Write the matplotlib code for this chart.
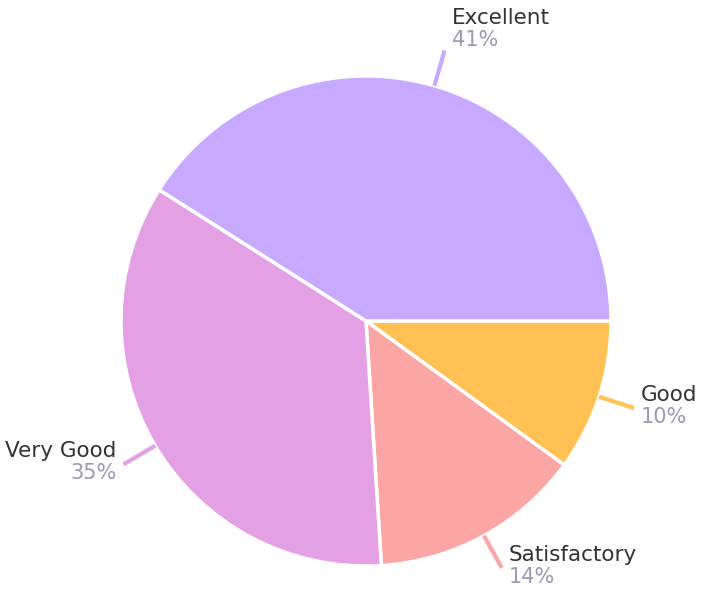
import numpy as np
import matplotlib.pyplot as plt

labels = ['Good', 'Satisfactory', 'Very Good', 'Excellent']
values = [10, 14, 35, 41]
colors = ['#ffc153', '#fca5a5', '#e4a0e4', '#c7a9ff']

W, H = 708, 596
R = 245.0          # pie radius in px
cx, cy = 366, 321  # centre in px (from top)

fig = plt.figure(figsize=(W / 100, H / 100), dpi=100)
ax = fig.add_axes([0, 0, 1, 1])

wedges, _ = ax.pie(values, colors=colors, startangle=0, counterclock=False,
                   radius=1.0, center=(0, 0),
                   wedgeprops=dict(edgecolor='white', linewidth=2.5))

px = 1.0 / R
for w, lab, val, col in zip(wedges, labels, values, colors):
    ang = np.deg2rad((w.theta1 + w.theta2) / 2)
    c, s = np.cos(ang), np.sin(ang)
    x0, y0 = 1.0 * c, 1.0 * s
    x1, y1 = 1.15 * c, 1.15 * s
    ax.plot([x0, x1], [y0, y1], color=col, lw=3, solid_capstyle='butt')
    side = 1 if c >= 0 else -1
    ha = 'left' if side > 0 else 'right'
    tx = x1 + side * 7 * px
    ymid = y1 + (2 + 20 * max(0, s)) * px
    ax.text(tx, ymid + 1 * px, lab, ha=ha, va='bottom', fontsize=15.5,
            color='#333333')
    ax.text(tx, ymid - 1 * px, f'{val}%', ha=ha, va='top', fontsize=15,
            color='#9a9ab4')

ax.set_xlim(-cx / R, (W - cx) / R)
ax.set_ylim(-(H - cy) / R, cy / R)
ax.set_aspect('equal')
ax.axis('off')

plt.savefig('out.png', dpi=100)
